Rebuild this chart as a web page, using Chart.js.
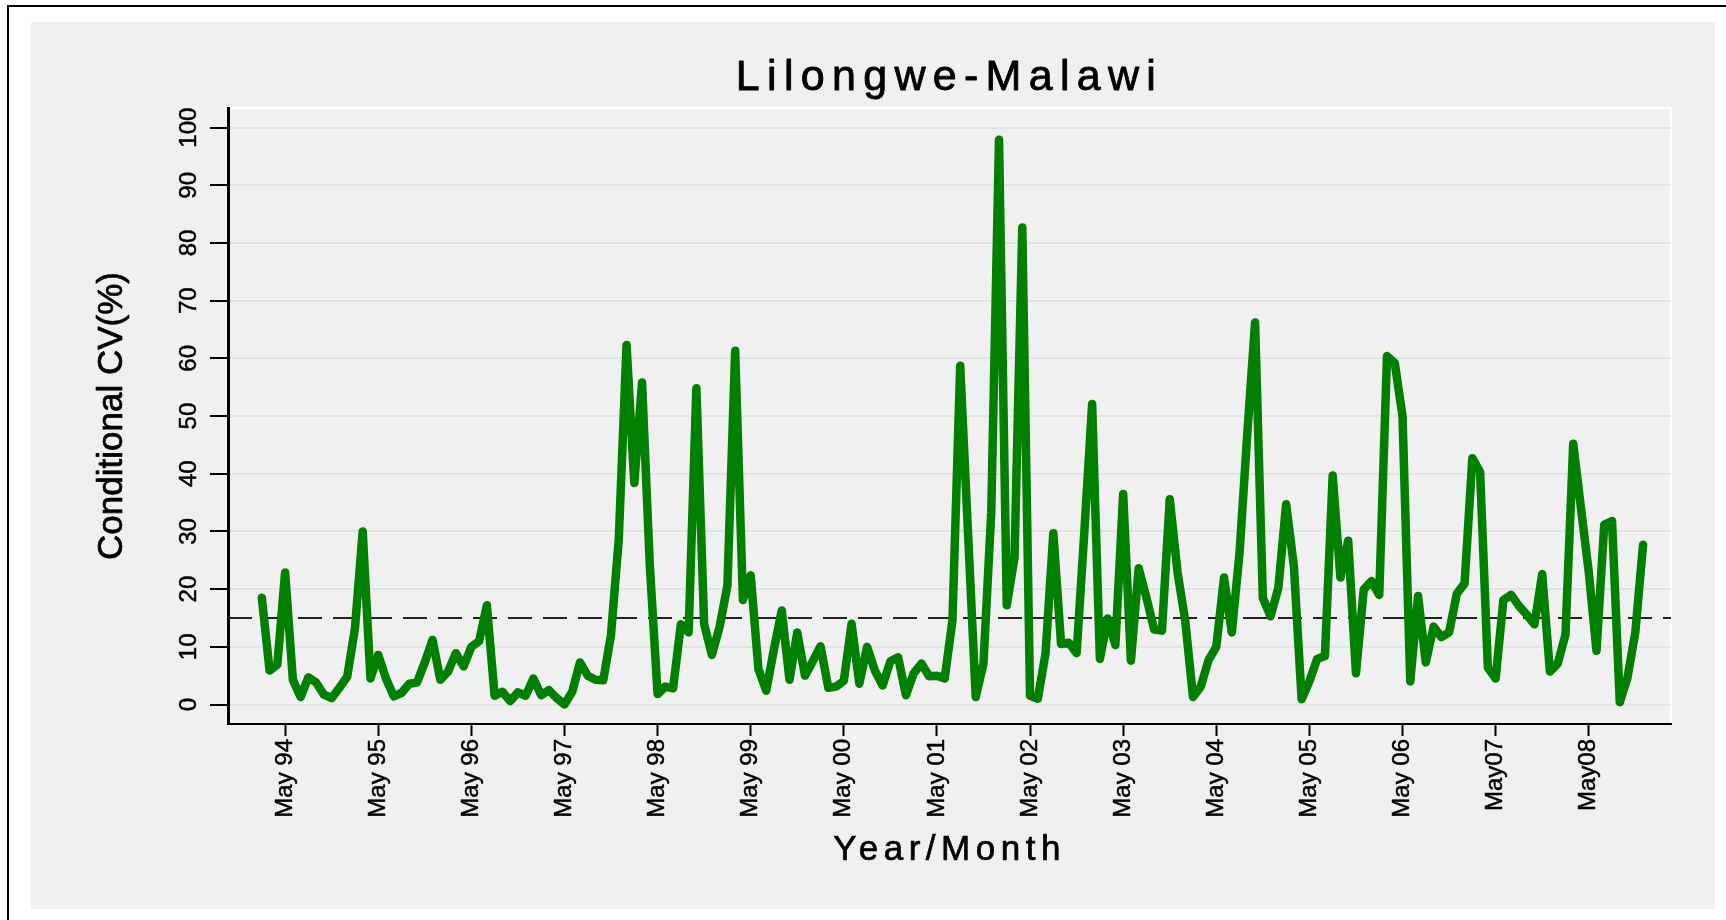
<!DOCTYPE html>
<html>
<head>
<meta charset="utf-8">
<title>Lilongwe-Malawi</title>
<style>
  html, body { margin: 0; padding: 0; background: #fff; }
  canvas { display: block; }
</style>
<script src="https://cdn.jsdelivr.net/npm/chart.js@4.4.1/dist/chart.umd.min.js"></script>
</head>
<body>
<canvas id="chart" width="1726" height="920"></canvas>
<script>
// monthly conditional CV (%), Feb 1994 .. Dec 2008
const cv1994 = [18.5, 5.9, 6.9, 22.9, 4.3, 1.3, 4.7, 3.8, 1.7, 1.1, 2.9];
const cv1995 = [4.8, 13.2, 30.0, 4.5, 8.6, 4.5, 1.4, 2.0, 3.6, 3.8, 7.3, 11.2];
const cv1996 = [4.3, 5.7, 8.9, 6.6, 10.0, 11.0, 17.2, 1.5, 2.2, 0.6, 2.1, 1.5];
const cv1997 = [4.5, 1.6, 2.5, 1.1, 0.0, 2.2, 7.3, 5.0, 4.3, 4.2, 12.1, 28.7];
const cv1998 = [62.3, 38.4, 55.8, 24.1, 1.8, 3.1, 2.8, 13.9, 12.5, 54.8, 13.9, 8.6];
const cv1999 = [13.5, 20.6, 61.3, 18.1, 22.4, 6.1, 2.4, 9.6, 16.3, 4.3, 12.5, 5.0];
const cv2000 = [7.5, 10.1, 2.9, 3.1, 4.1, 14.0, 3.6, 10.0, 5.9, 3.3, 7.5, 8.2];
const cv2001 = [1.6, 5.4, 7.1, 4.9, 5.0, 4.5, 14.6, 58.7, 30.0, 1.3, 7.1, 33.3];
const cv2002 = [97.9, 17.2, 25.5, 82.7, 1.5, 1.0, 8.9, 29.7, 10.5, 10.7, 8.9, 30.0];
const cv2003 = [52.1, 7.9, 14.9, 10.3, 36.5, 7.6, 23.6, 18.5, 13.0, 12.8, 35.6, 23.0];
const cv2004 = [14.5, 1.3, 3.1, 7.7, 10.0, 22.0, 12.5, 26.3, 47.0, 66.2, 18.5, 15.3];
const cv2005 = [20.2, 34.7, 24.0, 0.9, 4.0, 7.9, 8.4, 39.7, 22.0, 28.4, 5.4, 19.9];
const cv2006 = [21.4, 19.0, 60.4, 59.2, 50.0, 4.0, 18.8, 7.3, 13.5, 11.7, 12.5, 19.2];
const cv2007 = [21.0, 42.7, 40.3, 6.4, 4.5, 18.1, 19.0, 17.1, 15.6, 13.9, 22.6, 5.7];
const cv2008 = [7.1, 12.1, 45.2, 34.0, 23.0, 9.3, 31.2, 31.8, 0.4, 4.7, 12.5, 27.7];

const cv = [].concat(cv1994, cv1995, cv1996, cv1997, cv1998, cv1999, cv2000, cv2001,
  cv2002, cv2003, cv2004, cv2005, cv2006, cv2007, cv2008);

const threshold = 15;
const tickLabels = ['May 94', 'May 95', 'May 96', 'May 97', 'May 98', 'May 99', 'May 00',
  'May 01', 'May 02', 'May 03', 'May 04', 'May 05', 'May 06', 'May07', 'May08'];
// month index counted from Feb 94, so May 94 is 3
const tickMonths = tickLabels.map((_, k) => 3 + 12 * k);
const yTicks = [0, 10, 20, 30, 40, 50, 60, 70, 80, 90, 100];

const xMin = -4.36, xMax = 181.6;
const yMin = -3.38, yMax = 103.4;

const FONT = "'Liberation Sans', Arial, Helvetica, sans-serif";

// stata-like page: white sheet, thin frame, grey panel, white plot outline
const panelPlugin = {
  id: 'panel',
  beforeDraw(chart) {
    const ctx = chart.ctx, a = chart.chartArea;
    ctx.save();
    ctx.fillStyle = '#fff';
    ctx.fillRect(0, 0, chart.width, chart.height);
    ctx.fillStyle = '#f0f0f0';
    ctx.fillRect(31, 22, 1684, 887);
    ctx.strokeStyle = '#000';
    ctx.lineWidth = 2;
    ctx.beginPath();
    ctx.moveTo(8, chart.height);
    ctx.lineTo(8, 6);
    ctx.lineTo(chart.width, 6);
    ctx.stroke();
    ctx.strokeStyle = '#fff';
    ctx.lineWidth = 2.5;
    ctx.beginPath();
    ctx.moveTo(a.left, a.top);
    ctx.lineTo(a.right, a.top);
    ctx.lineTo(a.right, a.bottom);
    ctx.stroke();
    ctx.restore();
  }
};

// wider letter spacing on the titles
function spaced(obj, fn, sp) {
  if (!obj || obj['_sp_' + fn]) return;
  const orig = obj[fn];
  obj[fn] = function (...args) {
    const ctx = this.ctx;
    ctx.save();
    ctx.letterSpacing = sp;
    orig.apply(this, args);
    ctx.restore();
  };
  obj['_sp_' + fn] = true;
}

// the original's text is a little heavier than plain Liberation Sans
function heavy(ctx) {
  if (ctx._heavy) return;
  const fill = ctx.fillText;
  ctx.fillText = function (...args) {
    fill.apply(this, args);
    const m = /(\d+(\.\d+)?)px/.exec(this.font);
    const size = m ? parseFloat(m[1]) : 12;
    const lw = this.lineWidth, ss = this.strokeStyle, lj = this.lineJoin, dash = this.getLineDash();
    this.lineWidth = size * 0.02;
    this.strokeStyle = this.fillStyle;
    this.lineJoin = 'round';
    this.setLineDash([]);
    this.strokeText(...args);
    this.lineWidth = lw; this.strokeStyle = ss; this.lineJoin = lj; this.setLineDash(dash);
  };
  ctx._heavy = true;
}

const textPlugin = {
  id: 'textStyle',
  beforeDraw(chart) {
    heavy(chart.ctx);
    spaced(chart.titleBlock, 'draw', '7.3px');
    spaced(chart.scales.x, 'drawTitle', '5.5px');
  }
};

new Chart(document.getElementById('chart'), {
  type: 'line',
  data: {
    datasets: [{
      data: cv.map((v, i) => ({x: i, y: v})),
      borderColor: '#007f00',
      borderWidth: 8.5,
      borderJoinStyle: 'round',
      borderCapStyle: 'round',
      pointRadius: 0,
      tension: 0,
      order: 1
    }, {
      data: [{x: xMin, y: threshold}, {x: xMax, y: threshold}],
      borderColor: '#222',
      borderWidth: 2,
      borderDash: [24, 11],
      pointRadius: 0,
      order: 2
    }]
  },
  options: {
    responsive: false,
    animation: false,
    events: [],
    layout: {padding: {left: 0, right: 55, top: 0, bottom: 0}},
    plugins: {
      legend: {display: false},
      tooltip: {enabled: false},
      title: {
        display: true,
        text: 'Lilongwe-Malawi',
        fullSize: false,
        color: '#000',
        font: {family: FONT, size: 43, weight: 'normal', lineHeight: 1.2},
        padding: {top: 52.6, bottom: 3.8}
      }
    },
    scales: {
      x: {
        type: 'linear',
        min: xMin,
        max: xMax,
        afterFit(s) { s.height = 196; },
        afterBuildTicks(s) { s.ticks = tickMonths.map(v => ({value: v})); },
        ticks: {
          autoSkip: false,
          minRotation: 90,
          maxRotation: 90,
          padding: 3,
          color: '#000',
          font: {family: FONT, size: 24},
          callback: (v, i) => tickLabels[i]
        },
        grid: {drawOnChartArea: false, tickLength: 12, tickColor: '#000', tickWidth: 2},
        border: {color: '#000', width: 2},
        title: {
          display: true,
          text: 'Year/Month',
          color: '#000',
          font: {family: FONT, size: 35, lineHeight: 1.2},
          padding: {top: 0, bottom: 49}
        }
      },
      y: {
        min: yMin,
        max: yMax,
        afterFit(s) { s.width = 228; },
        afterBuildTicks(s) { s.ticks = yTicks.map(v => ({value: v})); },
        ticks: {
          minRotation: 90,
          maxRotation: 90,
          crossAlign: 'center',
          padding: 1,
          color: '#000',
          font: {family: FONT, size: 24}
        },
        grid: {color: '#e3e3e3', lineWidth: 2, tickLength: 18, tickColor: '#000', tickWidth: 2},
        border: {color: '#000', width: 3},
        title: {
          display: true,
          text: 'Conditional CV(%)',
          color: '#000',
          font: {family: FONT, size: 35, lineHeight: 1.2},
          padding: {top: 91, bottom: 0}
        }
      }
    }
  },
  plugins: [panelPlugin, textPlugin]
});
</script>
</body>
</html>
